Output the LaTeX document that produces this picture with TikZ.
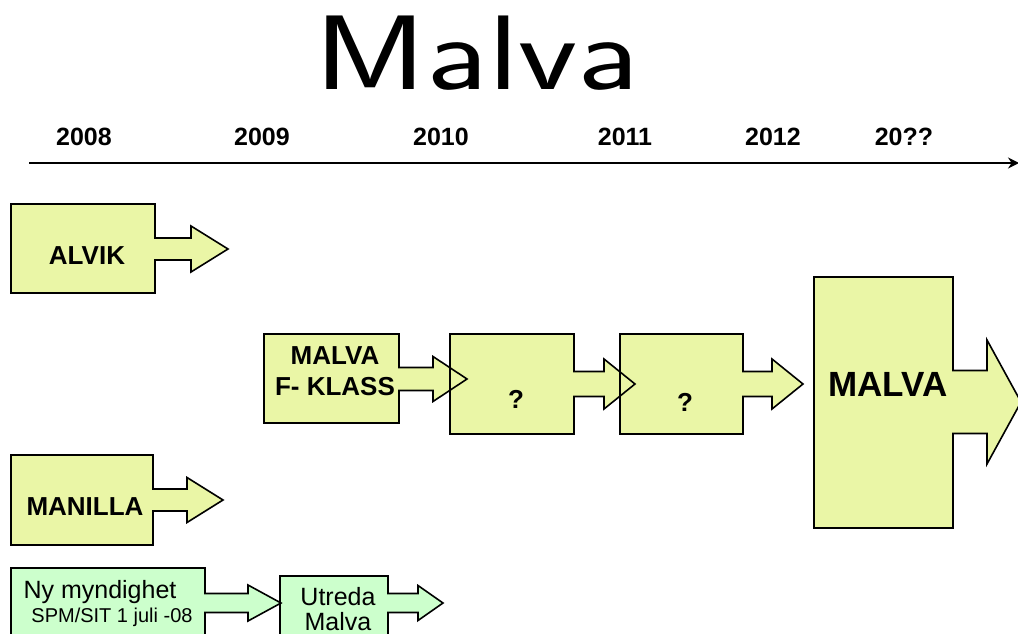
\documentclass[tikz,border=0pt]{standalone}
\usepackage{fontspec}
\setmainfont{Liberation Sans}
\usetikzlibrary{arrows.meta}
\definecolor{yel}{RGB}{234,246,166}
\definecolor{grn}{RGB}{204,255,204}
% #1 left #2 top #3 right #4 bottom #5 shaft half-width #6 head x #7 head half-height #8 tip x #9 centre y
\newcommand{\calloutfill}[9]{\fill[cfill] (#1,#2) -- (#3,#2) -- (#3,{#9-#5}) -- (#6,{#9-#5}) -- (#6,{#9-#7}) -- (#8,#9) -- (#6,{#9+#7}) -- (#6,{#9+#5}) -- (#3,{#9+#5}) -- (#3,#4) -- (#1,#4) -- cycle;}
\newcommand{\calloutline}[9]{\draw[cline] (#1,#2) -- (#3,#2) -- (#3,{#9-#5}) -- (#6,{#9-#5}) -- (#6,{#9-#7}) -- (#8,#9) -- (#6,{#9+#7}) -- (#6,{#9+#5}) -- (#3,{#9+#5}) -- (#3,#4) -- (#1,#4) -- cycle;}
\tikzset{
  cfill/.style={fill=yel},
  cline/.style={draw=black, line width=1.6pt, line join=miter},
  year/.style={font=\fontsize{25}{29}\selectfont\bfseries, anchor=base, inner sep=0pt},
  lbl/.style={font=\fontsize{26}{30}\selectfont\bfseries, anchor=base, inner sep=0pt},
  plain/.style={font=\fontsize{25}{29}\selectfont, anchor=base, inner sep=0pt},
  small/.style={font=\fontsize{20}{23}\selectfont, anchor=base, inner sep=0pt},
}
\begin{document}
\begin{tikzpicture}[x=1pt, y=-1pt]
\useasboundingbox (0,0) rectangle (1018,634);
\clip (0,0) rectangle (1018,634);
\fill[white] (0,0) rectangle (1018,634);

% title
\node[font=\fontsize{106}{112}\selectfont\sffamily, anchor=base, inner sep=0pt] (title) at (477,89) {\scalebox{1.29}[1]{Malva}};

% years
\node[year] (y2008) at (84,145) {2008};
\node[year] (y2009) at (262,145) {2009};
\node[year] (y2010) at (441,145) {2010};
\node[year] (y2011) at (625,145) {2011};
\node[year] (y2012) at (773,145) {2012};
\node[year] (y20xx) at (904,145) {20??};

% time axis
\coordinate (axL) at (29,163);
\coordinate (axR) at (1019,163);
\draw[line width=2.2pt, -{Stealth[length=11pt,width=11pt]}] (axL) -- (axR);

% fills
\calloutfill{11}{204}{155}{293}{11}{191}{23}{228}{249}
\calloutfill{11}{455}{153}{545}{11}{187}{22.5}{223}{500}
\calloutfill{264}{334}{399}{423}{11.5}{433}{22.5}{467}{379}
\calloutfill{450}{334}{574}{434}{12.5}{604}{25}{635}{384}
\calloutfill{620}{334}{743}{434}{12.5}{772}{25}{803}{384}
\calloutfill{814}{277}{953}{528}{31.5}{987}{62}{1021}{402}
\begin{scope}[cfill/.style={fill=grn}]
\calloutfill{11}{568}{205}{640}{9.5}{248}{18}{281}{603}
\calloutfill{280}{576}{388}{640}{9.5}{418}{17.5}{443}{603}
\end{scope}

% outlines
\calloutline{11}{204}{155}{293}{11}{191}{23}{228}{249}
\calloutline{11}{455}{153}{545}{11}{187}{22.5}{223}{500}
\calloutline{264}{334}{399}{423}{11.5}{433}{22.5}{467}{379}
\calloutline{450}{334}{574}{434}{12.5}{604}{25}{635}{384}
\calloutline{620}{334}{743}{434}{12.5}{772}{25}{803}{384}
\calloutline{814}{277}{953}{528}{31.5}{987}{62}{1021}{402}
\calloutline{11}{568}{205}{640}{9.5}{248}{18}{281}{603}
\calloutline{280}{576}{388}{640}{9.5}{418}{17.5}{443}{603}

% labels
\node[lbl] (alvik) at (87,264) {ALVIK};
\node[lbl] (manilla) at (85,515) {MANILLA};
\node[lbl] (mfk1) at (335,364) {MALVA};
\node[lbl] (mfk2) at (335,395) {F- KLASS};
\node[lbl] (q1) at (516,408) {?};
\node[lbl] (q2) at (685,411) {?};
\node[font=\fontsize{35}{40}\selectfont\bfseries, anchor=base, inner sep=0pt] (malva) at (888,396) {MALVA};
\node[plain] (ny) at (100,598) {Ny myndighet};
\node[small] (spm) at (112,622) {SPM/SIT 1 juli -08};
\node[plain] (utr1) at (338,605) {Utreda};
\node[plain] (utr2) at (338,630) {Malva};
\end{tikzpicture}
\end{document}
